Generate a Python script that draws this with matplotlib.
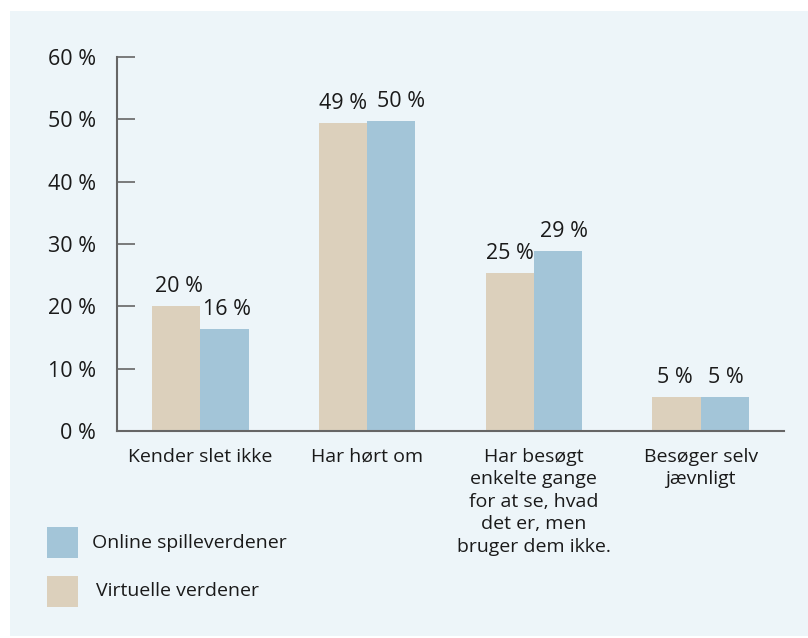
import matplotlib.pyplot as plt
from matplotlib.patches import Rectangle
import numpy as np

categories = [
    "Kender slet ikke",
    "Har hørt om",
    "Har besøgt\nenkelte gange\nfor at se, hvad\ndet er, men\nbruger dem ikke.",
    "Besøger selv\njævnligt",
]
virtuelle = [20.0, 49.4, 25.4, 5.4]
online = [16.4, 49.8, 28.9, 5.4]
series_names = ["Online spilleverdener", "Virtuelle verdener"]
yticks = [0, 10, 20, 30, 40, 50, 60]

# sideways nudges (points) so neighbouring value labels don't collide
nudge_virtuelle = [2, 0, 0, -1]
nudge_online = [2, 7, 4, 1]

beige = "#dcd0bc"
blue = "#a3c5d8"
bg = "#edf5f9"
axis_grey = "#666666"
fs = 14          # words
fs_num = 15.5    # percent figures

plt.rcParams["font.family"] = ["Open Sans", "DejaVu Sans"]

W, H = 808, 638
fig = plt.figure(figsize=(W / 100, H / 100), dpi=100)
fig.patch.set_facecolor("white")
fig.patches.append(Rectangle((10 / W, 0.003), 1 - 10 / W, 1 - 11 / H - 0.003,
                             transform=fig.transFigure, facecolor=bg,
                             edgecolor="none", zorder=-10))

ax = fig.add_axes([117 / W, 1 - 431 / H, (784 - 117) / W, (431 - 57) / H])
ax.set_facecolor("none")
ax.set_zorder(5)

x = np.arange(len(categories))
w = 0.29
b1 = ax.bar(x - w / 2, virtuelle, w, color=beige, zorder=2)
b2 = ax.bar(x + w / 2, online, w, color=blue, zorder=2)

for bars, vals, nudges in ((b1, virtuelle, nudge_virtuelle), (b2, online, nudge_online)):
    for bar, v, dx in zip(bars, vals, nudges):
        ax.annotate(f"{v:.0f} %", (bar.get_x() + bar.get_width() / 2, v),
                    xytext=(dx, 6.5), textcoords="offset points",
                    ha="center", va="bottom", fontsize=fs_num, color="#1a1a1a")

ax.set_xlim(-0.5, len(categories) - 0.5)
ax.set_ylim(0, 60)
ax.set_yticks(yticks)
ax.set_yticklabels([f"{t} %" for t in yticks], fontsize=fs_num, color="#1a1a1a")
ax.tick_params(axis="y", direction="in", length=13, width=1.2, color=axis_grey, pad=15)
ax.set_xticks(x)
ax.set_xticklabels(categories, fontsize=fs, color="#1a1a1a", linespacing=1.32, va="top")
ax.tick_params(axis="x", length=0, pad=12)

for side in ("top", "right"):
    ax.spines[side].set_visible(False)
for side in ("left", "bottom"):
    ax.spines[side].set_color(axis_grey)
    ax.spines[side].set_linewidth(1.5)

# legend drawn as swatches in figure pixel space
legend_items = [(series_names[0], blue, 527, 92), (series_names[1], beige, 576, 96)]
for name, col, top, tx in legend_items:
    fig.patches.append(Rectangle((47 / W, 1 - (top + 31) / H), 31 / W, 31 / H,
                                 transform=fig.transFigure, facecolor=col,
                                 edgecolor="none", zorder=1))
    fig.text(tx / W, 1 - (top + 15.5) / H, name, fontsize=fs,
             color="#1a1a1a", va="center", ha="left")

fig.savefig("out.png", dpi=100)
